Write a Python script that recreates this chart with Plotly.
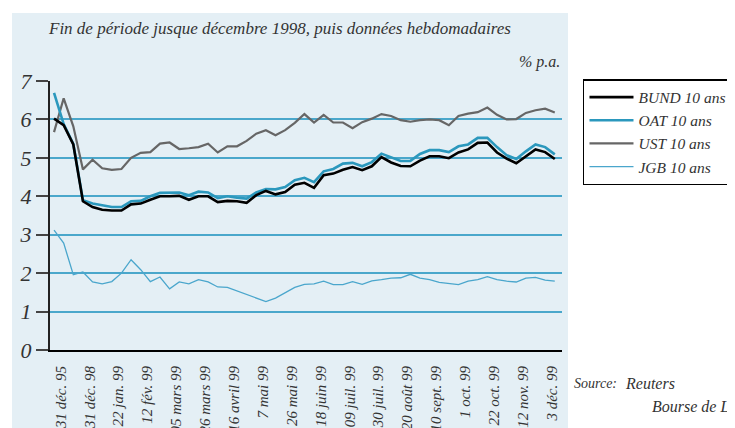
import plotly.graph_objects as go

# ---- data ----
tick_labels = ["31 déc. 95", "31 déc. 98", "22 jan. 99", "12 fév. 99", "05 mars 99",
               "26 mars 99", "16 avril 99", "7 mai 99", "26 mai 99", "18 juin 99",
               "09 juil. 99", "30 juil. 99", "20 août 99", "10 sept. 99", "1 oct. 99",
               "22 oct. 99", "12 nov. 99", "3 déc. 99"]

bund = [6.02, 5.85, 5.35, 3.87, 3.72, 3.65, 3.63, 3.63, 3.79, 3.81,
        3.91, 4.00, 4.00, 4.01, 3.91, 4.00, 4.00, 3.85, 3.88, 3.87,
        3.83, 4.03, 4.14, 4.05, 4.11, 4.30, 4.35, 4.22, 4.55, 4.59,
        4.69, 4.76, 4.68, 4.78, 5.02, 4.88, 4.79, 4.78, 4.93, 5.04,
        5.04, 4.99, 5.14, 5.22, 5.39, 5.40, 5.14, 4.98, 4.86, 5.04,
        5.22, 5.15, 4.97]

oat = [6.69, 5.88, 5.36, 3.90, 3.81, 3.76, 3.72, 3.72, 3.87, 3.88,
       4.00, 4.09, 4.10, 4.10, 4.03, 4.12, 4.10, 3.95, 4.00, 3.96,
       3.94, 4.10, 4.19, 4.18, 4.24, 4.42, 4.48, 4.37, 4.65, 4.71,
       4.85, 4.87, 4.78, 4.89, 5.11, 5.01, 4.92, 4.92, 5.10, 5.20,
       5.20, 5.15, 5.30, 5.35, 5.52, 5.52, 5.28, 5.07, 4.97, 5.17,
       5.35, 5.28, 5.09]

ust = [5.67, 6.55, 5.82, 4.70, 4.95, 4.73, 4.69, 4.71, 5.00, 5.13,
       5.15, 5.37, 5.40, 5.23, 5.25, 5.28, 5.37, 5.14, 5.30, 5.30,
       5.44, 5.63, 5.72, 5.59, 5.72, 5.91, 6.14, 5.92, 6.12, 5.92,
       5.92, 5.77, 5.93, 6.02, 6.14, 6.09, 5.98, 5.94, 5.98, 6.00,
       5.98, 5.85, 6.09, 6.15, 6.19, 6.31, 6.12, 6.00, 6.01, 6.17,
       6.24, 6.28, 6.18]

jgb = [3.12, 2.78, 1.96, 2.03, 1.77, 1.72, 1.78, 2.00, 2.35, 2.09,
       1.78, 1.90, 1.59, 1.77, 1.72, 1.83, 1.77, 1.64, 1.63, 1.54,
       1.43, 1.34, 1.26, 1.35, 1.49, 1.63, 1.71, 1.72, 1.79, 1.70,
       1.70, 1.78, 1.71, 1.80, 1.83, 1.87, 1.88, 1.97, 1.87, 1.83,
       1.76, 1.73, 1.70, 1.79, 1.83, 1.91, 1.83, 1.79, 1.77, 1.87,
       1.89, 1.82, 1.79]

y_ticks = [0, 1, 2, 3, 4, 5, 6, 7]

# ---- figure ----
FONT = "Liberation Serif, 'Times New Roman', Times, serif"
TXT = "#333333"
x = list(range(len(bund)))
tick_pos = [i * 3 + 0.7 for i in range(len(tick_labels))]

fig = go.Figure()
fig.add_trace(go.Scatter(x=x, y=jgb, mode="lines", name="JGB 10 ans",
                         line=dict(color="#4aa6cc", width=1.3)))
fig.add_trace(go.Scatter(x=x, y=ust, mode="lines", name="UST 10 ans",
                         line=dict(color="#666666", width=2.2)))
fig.add_trace(go.Scatter(x=x, y=oat, mode="lines", name="OAT 10 ans",
                         line=dict(color="#2b98bd", width=2.6)))
fig.add_trace(go.Scatter(x=x, y=bund, mode="lines", name="BUND 10 ans",
                         line=dict(color="#000000", width=2.6)))

# panel background
fig.add_shape(type="rect", xref="paper", yref="paper", layer="below",
              x0=-0.0742, x1=1.0117, y0=-0.35, y1=1.2528,
              fillcolor="#e4eff5", line=dict(width=0))

fig.update_layout(
    width=735, height=428,
    margin=dict(l=42, r=181, t=73, b=86, autoexpand=False),
    paper_bgcolor="white",
    plot_bgcolor="rgba(0,0,0,0)",
    font=dict(family=FONT, color=TXT, style="italic"),
    showlegend=True,
    legend=dict(x=1.041, y=1.0074, xanchor="left", yanchor="top",
                bgcolor="white", bordercolor="black", borderwidth=1.5,
                traceorder="reversed", itemwidth=44,
                font=dict(family=FONT, size=15.5, color=TXT, style="italic")),
    xaxis=dict(range=[-0.42, 52.75], tickmode="array", tickvals=tick_pos,
               ticktext=tick_labels, tickangle=-90, showgrid=False, zeroline=False,
               showline=True, linecolor="black", linewidth=2, ticks="",
               ticklabelstandoff=8, automargin=False,
               tickfont=dict(family=FONT, size=15, color=TXT, style="italic")),
    yaxis=dict(range=[0, 7], tickmode="array", tickvals=y_ticks,
               showgrid=True, gridcolor="#4aa7cb", gridwidth=1.8, zeroline=False,
               showline=True, linecolor="#222222", linewidth=2, automargin=False,
               ticks="outside", ticklen=12, tickwidth=1.5, tickcolor="#444444",
               tickfont=dict(family=FONT, size=22, color=TXT, style="italic")),
)

fig.add_annotation(text="Fin de période jusque décembre 1998, puis données hebdomadaires",
                   xref="paper", yref="paper", x=-0.008, y=1.195, xanchor="left",
                   yanchor="middle", showarrow=False,
                   font=dict(family=FONT, size=17, color=TXT, style="italic"))
fig.add_annotation(text="% p.a.", xref="paper", yref="paper", x=1.0, y=1.07,
                   xanchor="right", yanchor="middle", showarrow=False,
                   font=dict(family=FONT, size=16, color=TXT, style="italic"))
fig.add_annotation(text="Source:", xref="paper", yref="paper", x=1.111, y=-0.125,
                   xanchor="right", yanchor="middle", showarrow=False,
                   font=dict(family=FONT, size=14, color=TXT, style="italic"))
fig.add_annotation(text="Reuters", xref="paper", yref="paper", x=1.12, y=-0.125,
                   xanchor="left", yanchor="middle", showarrow=False,
                   font=dict(family=FONT, size=16, color=TXT, style="italic"))
fig.add_annotation(text="Bourse de Luxembourg", xref="paper", yref="paper", x=1.172, y=-0.213,
                   xanchor="left", yanchor="middle", showarrow=False,
                   font=dict(family=FONT, size=16, color=TXT, style="italic"))

fig.write_html("out.html")
